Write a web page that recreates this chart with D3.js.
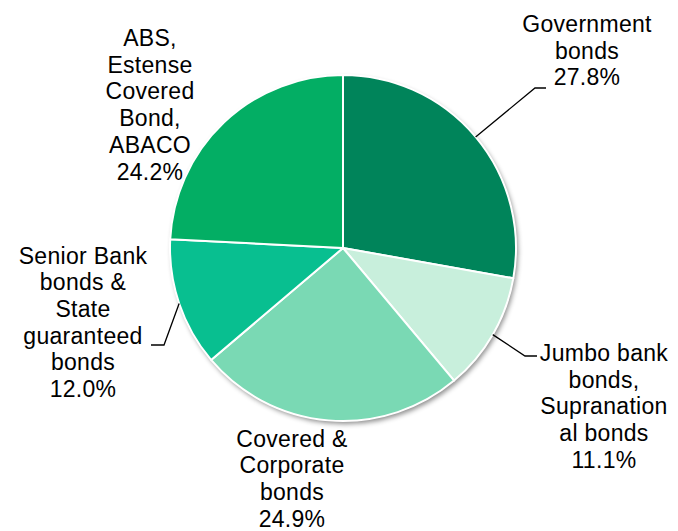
<!DOCTYPE html>
<html>
<head>
<meta charset="utf-8">
<script src="https://cdn.jsdelivr.net/npm/d3@7"></script>
<style>
  html, body { margin: 0; padding: 0; background: #ffffff; }
  svg { display: block; }
  text { font-family: "Liberation Sans", Arial, sans-serif; font-size: 23px; letter-spacing: 0.3px; fill: #000; }
</style>
</head>
<body>
<div id="chart"></div>
<script>
// Portfolio breakdown by asset class (share of total, %)
const categories = [
  "Government bonds",
  "Jumbo bank bonds, Supranational bonds",
  "Covered & Corporate bonds",
  "Senior Bank bonds & State guaranteed bonds",
  "ABS, Estense Covered Bond, ABACO"
];
const values = [27.8, 11.1, 24.9, 12.0, 24.2];
// Label text as it wraps on the chart (last line is the percentage)
const labelLines = [
  ["Government", "bonds"],
  ["Jumbo bank", "bonds,", "Supranation", "al bonds"],
  ["Covered &", "Corporate", "bonds"],
  ["Senior Bank", "bonds &", "State", "guaranteed", "bonds"],
  ["ABS,", "Estense", "Covered", "Bond,", "ABACO"]
];
const colors = ["#00845a", "#c8efdc", "#7ad9b4", "#08bf90", "#03ae64"];

// Layout
const W = 678, H = 531;
const cx = 343, cy = 248, R = 173;
const lineH = 26.7;
// Label anchor: centre x and first baseline y
const labelPos = [
  { x: 587, y: 32 },
  { x: 604, y: 361 },
  { x: 292, y: 446.5 },
  { x: 83,  y: 263.5 },
  { x: 150, y: 46 }
];
// Leader lines: elbow point and end of the horizontal tick (null = no leader)
const leaders = [
  { elbow: [535, 88], end: [546, 88] },
  { elbow: [525, 356], end: [537, 356] },
  null,
  { elbow: [164, 345], end: [151, 345] },
  null
];

const svg = d3.select("#chart").append("svg")
  .attr("width", W).attr("height", H);

const defs = svg.append("defs");
const f = defs.append("filter").attr("id", "pieShadow")
  .attr("x", "-10%").attr("y", "-10%").attr("width", "120%").attr("height", "120%");
f.append("feDropShadow")
  .attr("dx", 2).attr("dy", 3).attr("stdDeviation", 2.5)
  .attr("flood-color", "#000").attr("flood-opacity", 0.45);

const pie = d3.pie().sort(null).value(d => d)(values);
const arc = d3.arc().innerRadius(0).outerRadius(R);

const g = svg.append("g").attr("transform", `translate(${cx},${cy})`);

// Shadow disc beneath the slices
g.append("circle").attr("r", R).attr("fill", "#ffffff").attr("filter", "url(#pieShadow)");

g.selectAll("path.slice").data(pie).join("path")
  .attr("class", "slice")
  .attr("d", arc)
  .attr("fill", (d, i) => colors[i])
  .attr("stroke", "#ffffff")
  .attr("stroke-width", 2)
  .attr("stroke-linejoin", "round");

// Leader lines from the arc edge at each slice's mid-angle
pie.forEach((d, i) => {
  const L = leaders[i];
  if (!L) return;
  const a = (d.startAngle + d.endAngle) / 2;
  const sx = cx + R * Math.sin(a), sy = cy - R * Math.cos(a);
  svg.append("polyline")
    .attr("points", [[sx, sy], L.elbow, L.end].map(p => p.join(",")).join(" "))
    .attr("fill", "none")
    .attr("stroke", "#000")
    .attr("stroke-width", 1.3);
});

// Category labels with percentage
const fmt = d3.format(".1f");
labelLines.forEach((lines, i) => {
  const all = lines.concat([fmt(values[i]) + "%"]);
  const t = svg.append("text")
    .attr("text-anchor", "middle")
    .attr("x", labelPos[i].x)
    .attr("y", labelPos[i].y);
  all.forEach((s, k) => {
    t.append("tspan")
      .attr("x", labelPos[i].x)
      .attr("y", labelPos[i].y + k * lineH)
      .text(s);
  });
});
</script>
</body>
</html>
